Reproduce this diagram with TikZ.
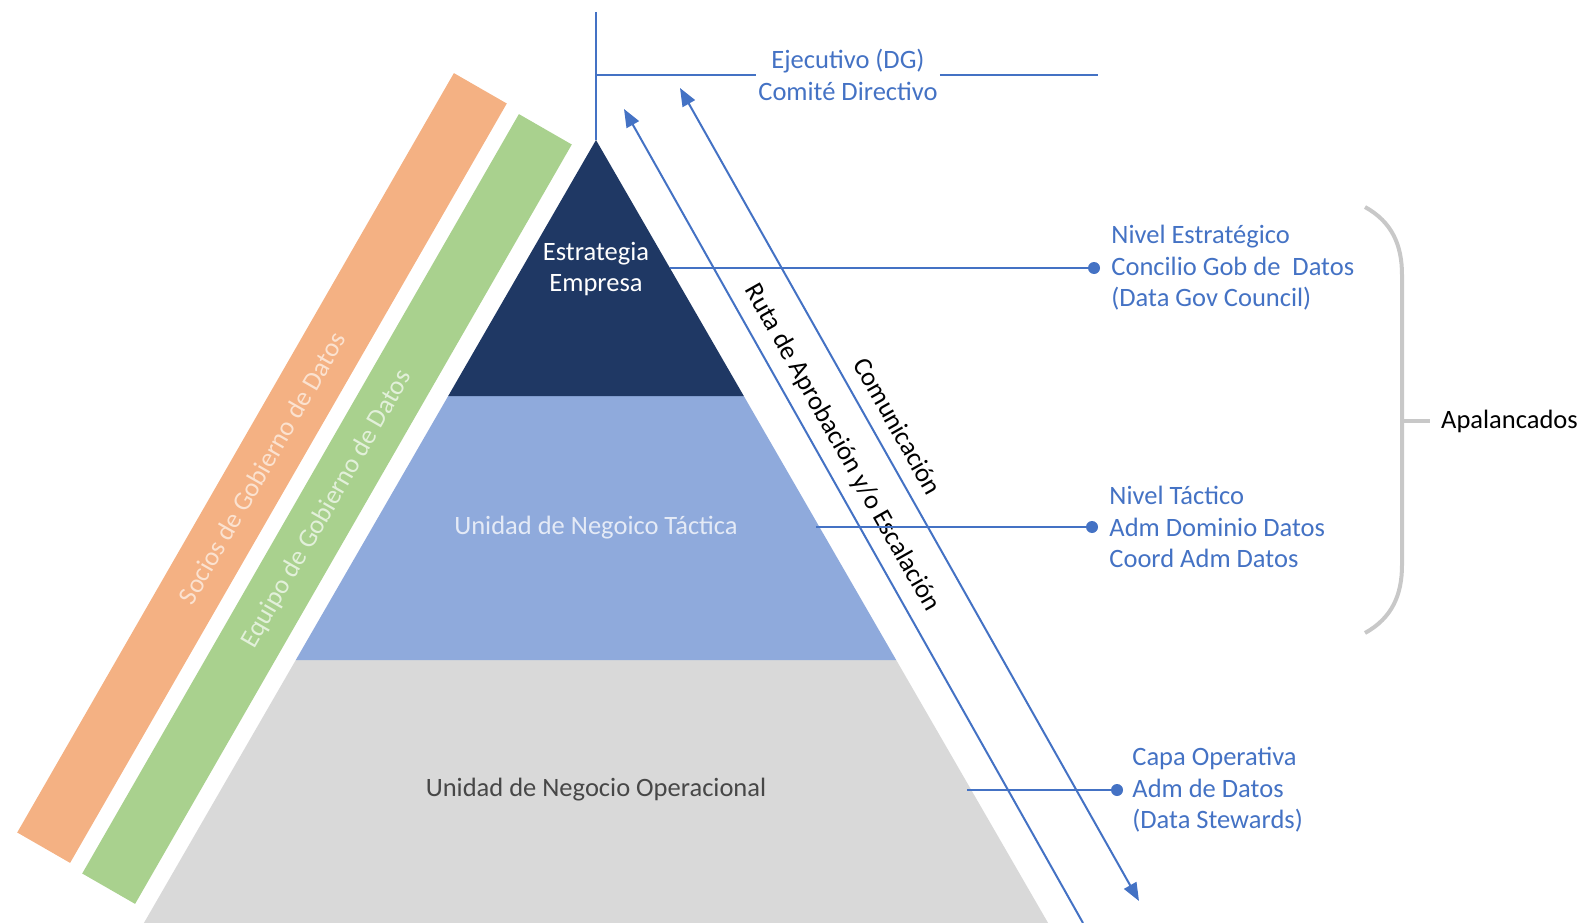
\documentclass[tikz,border=0pt]{standalone}
\usepackage{fontspec}
\setmainfont{Carlito}
\usepackage{tikz}
\usetikzlibrary{arrows.meta,positioning}
\definecolor{azul}{RGB}{68,114,196}
\definecolor{marino}{RGB}{31,56,100}
\definecolor{celeste}{RGB}{143,170,220}
\definecolor{gris}{RGB}{217,217,217}
\definecolor{naranja}{RGB}{244,177,131}
\definecolor{verde}{RGB}{169,209,142}
\definecolor{llave}{RGB}{200,200,200}
\definecolor{textonaranja}{RGB}{251,226,208}
\definecolor{textoverde}{RGB}{226,240,218}
\definecolor{textoceleste}{RGB}{228,234,246}

\begin{document}
\begin{tikzpicture}[x=1pt,y=-1pt,
    txt/.style={font=\fontsize{26.5}{31.5}\selectfont, inner sep=0pt},
    rotulo/.style={txt, text=azul, align=left},
    banda/.style={txt, rotate=60.1, minimum width=876pt, minimum height=61pt},
    linea/.style={draw=azul, line width=2pt},
    flecha/.style={linea, -{Triangle[length=18pt,width=14pt]}},
    punto/.style={circle, fill=azul, inner sep=0pt, minimum size=12pt}]
    \useasboundingbox (0,0) rectangle (1583,923);
    \node[banda, fill=naranja, text=textonaranja] (socios) at (262,468) {Socios de Gobierno de Datos};
    \node[banda, fill=verde, text=textoverde] (equipo) at (327,509) {Equipo de Gobierno de Datos};
    \fill[gris] (143.9,923) -- (295.8,660) -- (896.2,660) -- (1048.1,923) -- cycle;
    \fill[celeste] (295.8,660) -- (448.2,396) -- (743.8,396) -- (896.2,660) -- cycle;
    \fill[marino] (448.2,396) -- (596,140) -- (743.8,396) -- cycle;
    \node[txt, text=white, align=center] (estrategia) at (596,269) {Estrategia\\Empresa};
    \node[txt, text=textoceleste] (tactica) at (596,528) {Unidad de Negoico Táctica};
    \node[txt, text=black!72] (operacional) at (596,790) {Unidad de Negocio Operacional};
    \coordinate (tope) at (596,12);
    \coordinate (cima) at (596,140);
    \coordinate (finlinea) at (1098,75);
    \node[rotulo, align=center, inner sep=2pt] (ejecutivo) at (848,75) {Ejecutivo (DG)\\Comité Directivo};
    \draw[linea] (tope) -- (cima);
    \draw[linea] (tope |- ejecutivo.west) -- (ejecutivo.west);
    \draw[linea] (ejecutivo.east) -- (finlinea);
    \coordinate (rutaA) at (1083,923);
    \coordinate (rutaB) at (624,109);
    \coordinate (comA) at (680,88);
    \coordinate (comB) at (1139,901);
    \draw[flecha] (rutaA) -- (rutaB);
    \draw[flecha, {Triangle[length=18pt,width=14pt]}-{Triangle[length=18pt,width=14pt]}] (comA) -- (comB);
    \node[txt, rotate=-60.6] (ruta) at (842,448) {Ruta de Aprobación y/o Escalación};
    \node[txt, rotate=-60.6] (comunicacion) at (898,426) {Comunicación};
    \node[punto] (p1) at (1094,268) {};
    \node[punto] (p2) at (1092,527) {};
    \node[punto] (p3) at (1117,790) {};
    \coordinate (b1) at (670,268);
    \coordinate (b2) at (816,527);
    \coordinate (b3) at (967,790);
    \foreach \i in {1,2,3}
      \draw[linea] (b\i) -- (p\i);
    \node[rotulo, right=11pt of p1] (estrategico) {Nivel Estratégico\\Concilio Gob de\ \ Datos\\(Data Gov Council)};
    \node[rotulo, right=11pt of p2] (tactico) {Nivel Táctico\\Adm Dominio Datos\\Coord Adm Datos};
    \node[rotulo, right=9pt of p3] (operativa) {Capa Operativa\\Adm de Datos\\(Data Stewards)};
    \draw[llave, line width=4pt] (1365,207) .. controls (1392,222) and (1402,245) .. (1402,275) -- (1402,565) .. controls (1402,595) and (1392,618) .. (1365,633);
    \coordinate (medio) at (1402,421);
    \node[txt, right=39pt of medio] (apalancados) {Apalancados};
    \draw[llave, line width=4pt] (medio) -- ++(28,0);
\end{tikzpicture}
\end{document}
